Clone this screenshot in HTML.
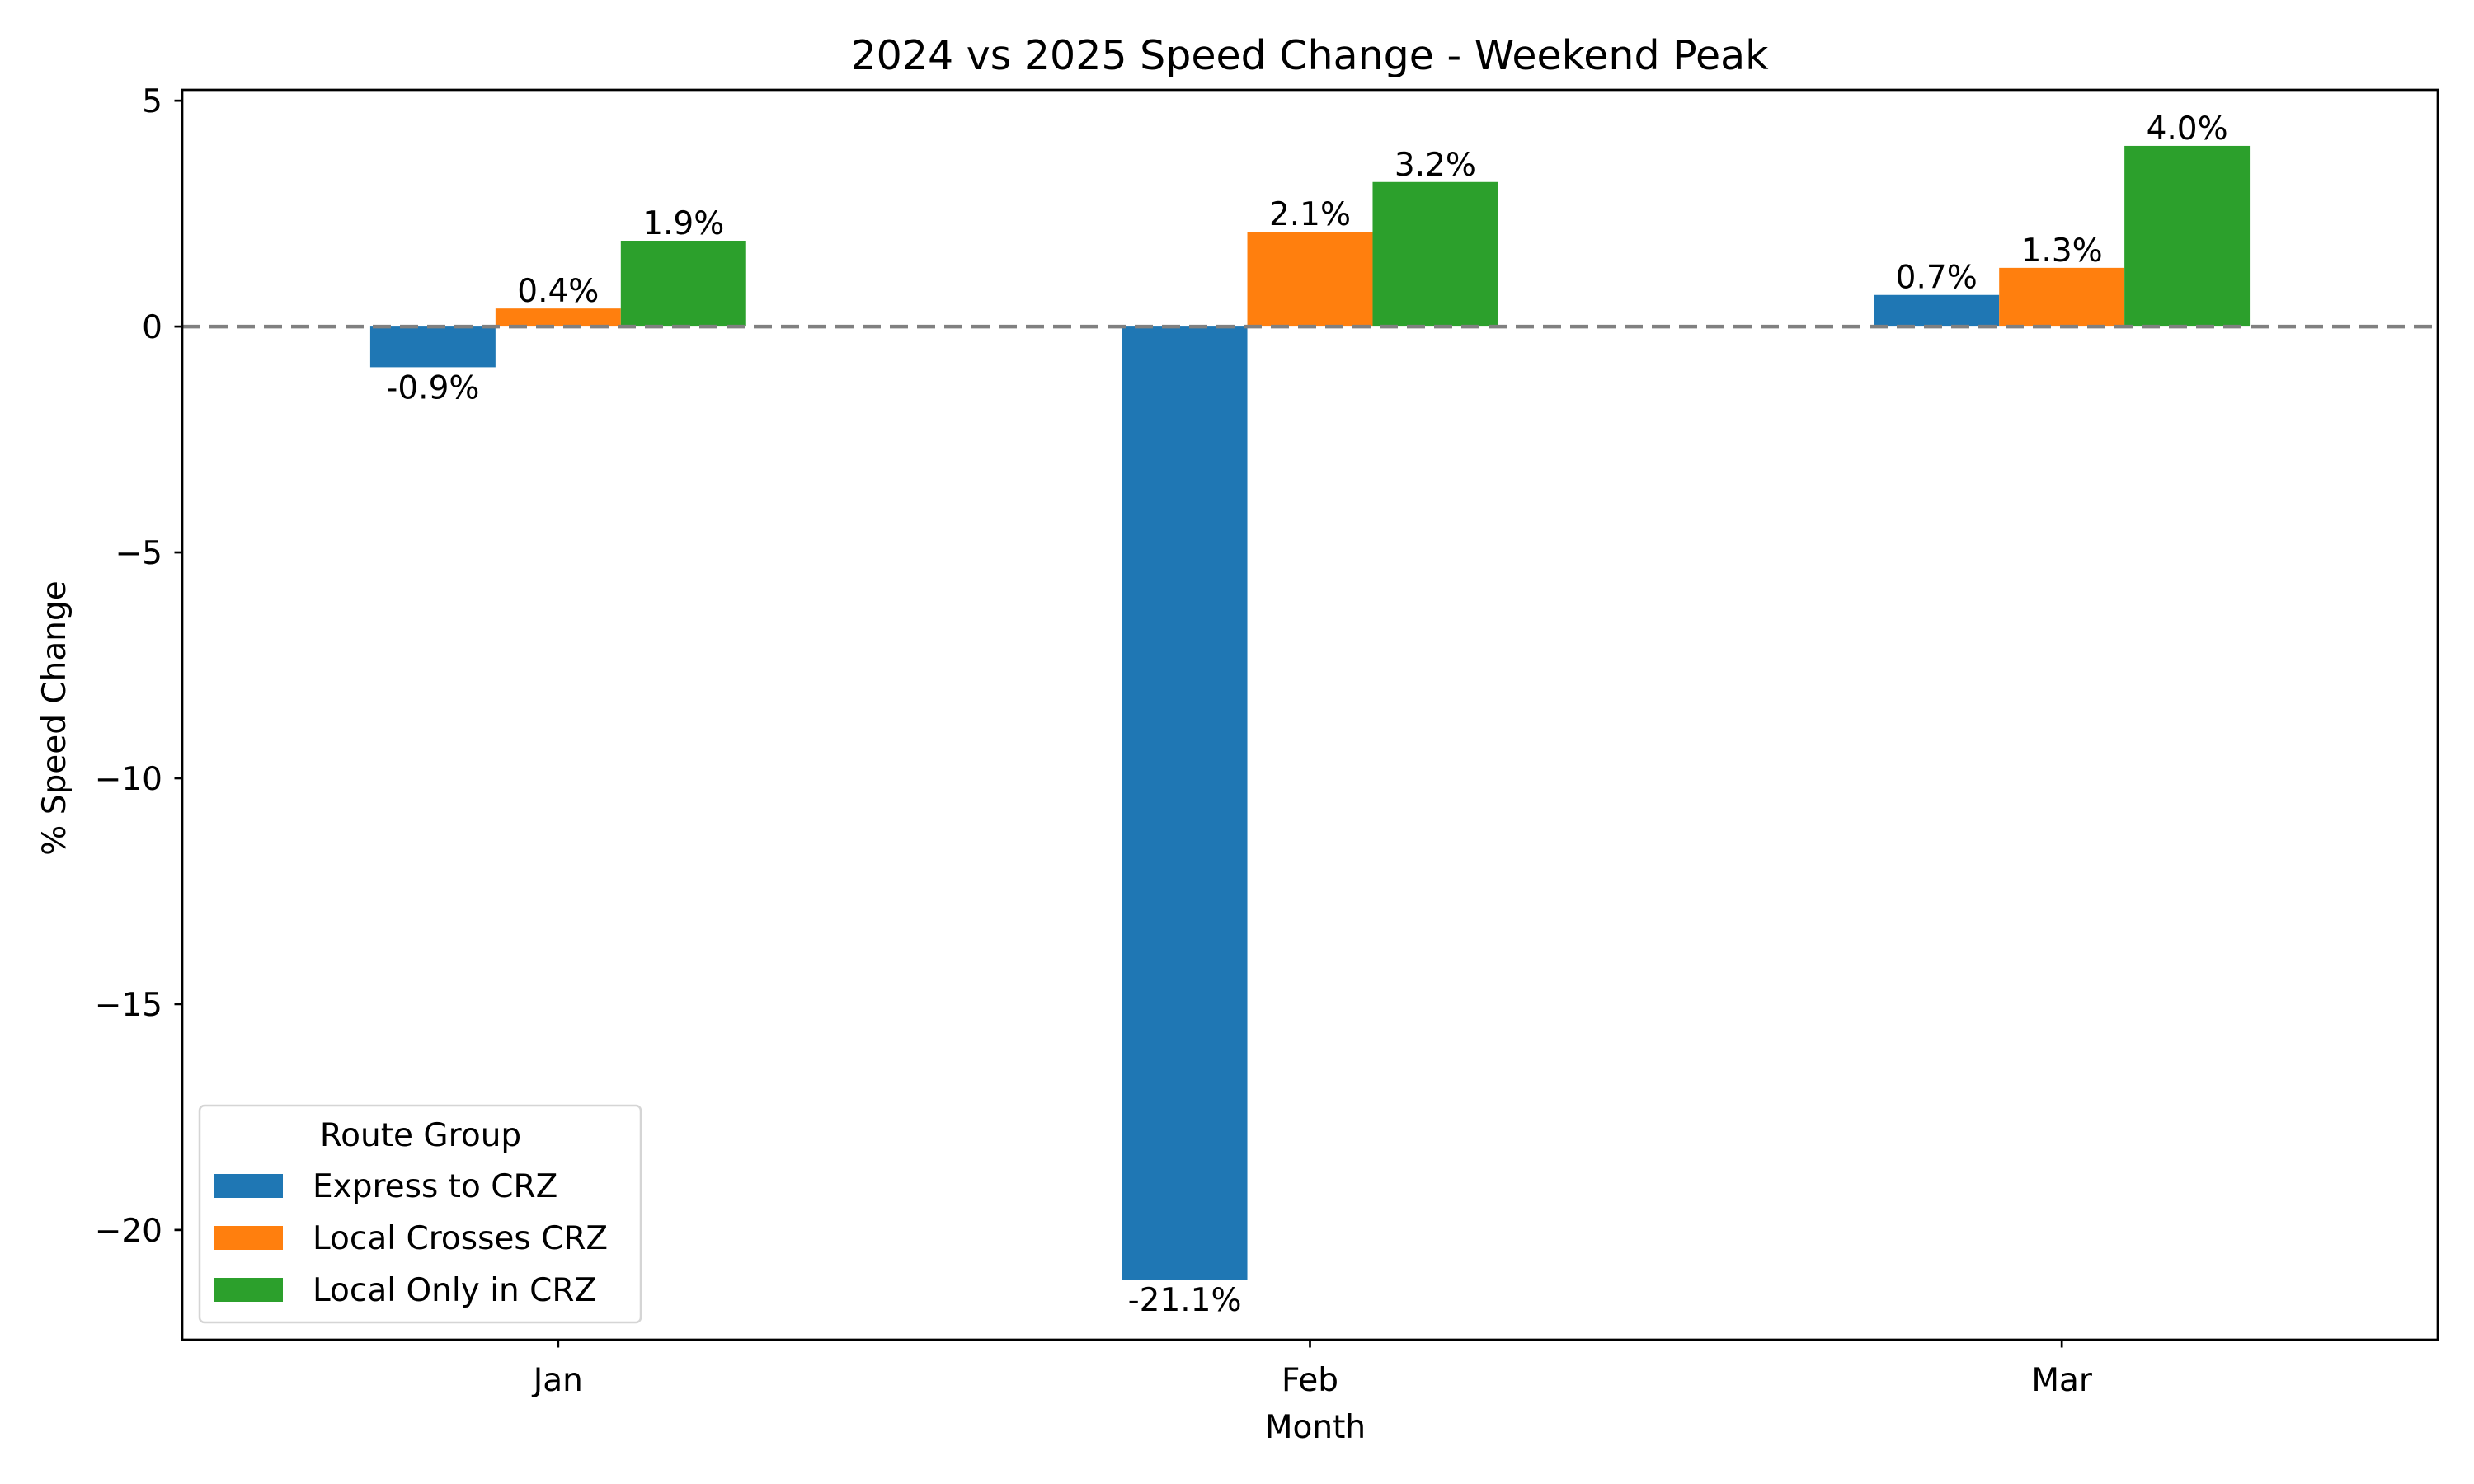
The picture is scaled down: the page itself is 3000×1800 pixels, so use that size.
<!DOCTYPE html>
<html><head><meta charset="utf-8"><style>
html,body{margin:0;padding:0;background:#fff;}
svg{display:block;font-family:"DejaVu Sans","Liberation Sans",sans-serif;}
</style></head><body>
<svg id="chart" width="3000" height="1800" viewBox="0 0 3000 1800">
<rect width="3000" height="1800" fill="#fff"/>
<text x="1588" y="84" font-size="49" text-anchor="middle">2024 vs 2025 Speed Change - Weekend Peak</text>
<g id="plot"></g>
<text x="1595" y="1744" font-size="39" text-anchor="middle">Month</text>
<text transform="translate(79,871) rotate(-90)" font-size="39" text-anchor="middle">% Speed Change</text>
<g>
<rect x="242" y="1341" width="535" height="263" rx="6" fill="#fff" fill-opacity="0.8" stroke="#d5d5d5" stroke-width="2.5"/>
<text x="510" y="1390" font-size="39" text-anchor="middle">Route Group</text>
<g><rect x="259" y="1424" width="84" height="29" fill="#1f77b4"/><text x="379" y="1452" font-size="39">Express to CRZ</text></g>
<g><rect x="259" y="1487" width="84" height="29" fill="#ff7f0e"/><text x="379" y="1515" font-size="39">Local Crosses CRZ</text></g>
<g><rect x="259" y="1550" width="84" height="29" fill="#2ca02c"/><text x="379" y="1578" font-size="39">Local Only in CRZ</text></g>
</g>
</svg>
<script>
const categories = ["Jan", "Feb", "Mar"];
const seriesNames = ["Express to CRZ", "Local Crosses CRZ", "Local Only in CRZ"];
const expressValues = [-0.9, -21.1, 0.7];
const localCrossesValues = [0.4, 2.1, 1.3];
const localOnlyValues = [1.9, 3.2, 4.0];
const yTicks = [5, 0, -5, -10, -15, -20];
const yTickLabels = ["5", "0", "\u22125", "\u221210", "\u221215", "\u221220"];

const NS = "http://www.w3.org/2000/svg";
const L = 221, R = 2956, T = 109, B = 1625;
const yMin = -22.43, yMax = 5.24, xMin = -0.5, xMax = 2.5;
const colors = ["#1f77b4", "#ff7f0e", "#2ca02c"];
const allSeries = [expressValues, localCrossesValues, localOnlyValues];
function xs(v){ return L + (v - xMin) / (xMax - xMin) * (R - L); }
function ys(v){ return T + (yMax - v) / (yMax - yMin) * (B - T); }
const g = document.getElementById("plot");
function el(tag, attrs, parent){ const e = document.createElementNS(NS, tag); for (const k in attrs) e.setAttribute(k, attrs[k]); (parent||g).appendChild(e); return e; }
const bw = 1/6;
allSeries.forEach((vals, s) => {
  vals.forEach((v, i) => {
    const c = i + (s - 1) * bw;
    const x0 = xs(c - bw/2), x1 = xs(c + bw/2);
    const y0 = ys(Math.max(v, 0)), y1 = ys(Math.min(v, 0));
    const r = el("rect", {x: x0, y: y0, width: x1 - x0, height: y1 - y0, fill: colors[s]});
    
    
    const t = el("text", {x: (x0 + x1)/2, y: v >= 0 ? ys(v) - 8 : ys(v) + 38, "font-size": 39, "text-anchor": "middle"});
    t.textContent = v.toFixed(1) + "%";
    
    
  });
});
const zl = el("line", {x1: L, x2: R, y1: ys(0), y2: ys(0), stroke: "#808080", "stroke-width": 4.5, "stroke-dasharray": "22 11"});


const frame = el("rect", {x: L, y: T, width: R - L, height: B - T, fill: "none", stroke: "#000", "stroke-width": 2.7});


yTicks.forEach((v, i) => {
  const y = ys(v);
  const tk = el("line", {x1: L - 9.5, x2: L, y1: y, y2: y, stroke: "#000", "stroke-width": 2.7});
  
  
  const t = el("text", {x: L - 24, y: y + 14, "font-size": 39, "text-anchor": "end"});
  t.textContent = yTickLabels[i];
  
  
});
categories.forEach((c, i) => {
  const x = xs(i);
  const tk = el("line", {x1: x, x2: x, y1: B, y2: B + 9.5, stroke: "#000", "stroke-width": 2.7});
  
  
  const t = el("text", {x: x, y: B + 62, "font-size": 39, "text-anchor": "middle"});
  t.textContent = c;
  
  
});
</script>
</body></html>
